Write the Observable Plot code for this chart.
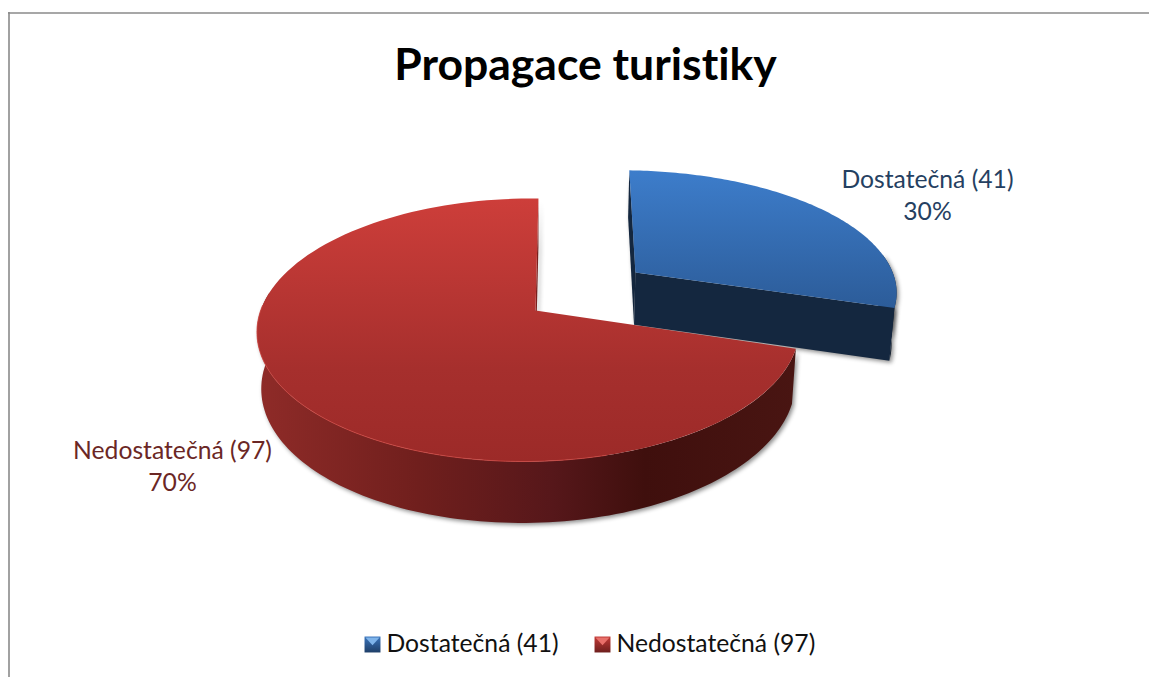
<!DOCTYPE html>
<html lang="cs">
<head>
<meta charset="utf-8">
<title>Propagace turistiky</title>
<script src="https://cdn.jsdelivr.net/npm/d3@7"></script>
<script src="https://cdn.jsdelivr.net/npm/@observablehq/plot@0.6"></script>
<style>
  html, body { margin: 0; padding: 0; background: #fff; }
  svg { display: block; font-variant-ligatures: none; }
  text { font-variant-ligatures: none; }
</style>
</head>
<body>
<div id="chart"></div>
<script>
// Survey answers
const chartTitle = "Propagace turistiky";
const categories = ["Dostatečná", "Nedostatečná"];
const counts = [41, 97];

const total = d3.sum(counts);
const labelText = categories.map((c, i) => `${c} (${counts[i]})`);
const percentText = counts.map(v => `${Math.round(v / total * 100)}%`);

// Slice angles, clockwise from the far side of the disc
const TAU = Math.PI * 2;
const blueSpan = counts[0] / total * TAU;
const explode = 0.5;
const blueShift = [explode * Math.sin(blueSpan / 2) * 0.97, explode * Math.cos(blueSpan / 2) * 1.05];

// Perspective view of a unit disc lying on a plane; depth = 0 is the top face,
// depth = 1 is the bottom face of the extruded pie.
function view(wx, wy, depth) {
  const den = 1 + 0.148 * wy + 0.025 * wx + 0.015 * depth;
  return {
    x: 535 + (268 * wx + 3.4 * wy) / den,
    y: 310 + (55.5 * depth - 128.6 * wy) / den
  };
}
// The exploded slice sits further from the lens axis, so it reads slightly wider and leans
const widen = s => (s[0] === 0 ? 1 : 1.05);
const lean = s => (s[0] === 0 ? 0 : 0.015);
const rimPoint = (t, depth, s) =>
  view(Math.sin(t) * widen(s) + Math.cos(t) * lean(s) + s[0], Math.cos(t) + s[1], depth);
const apex = (depth, s) => view(s[0], s[1], depth);
const arc = (a, b, depth, s) => d3.range(0, 121).map(i => rimPoint(a + (b - a) * i / 120, depth, s));

function topFace(a, b, s) { return [apex(0, s), ...arc(a, b, 0, s)]; }
function wall(a, b, s) { return [...arc(a, b, 0, s), ...arc(b, a, 1, s)]; }
function radial(t, s) { return [apex(0, s), rimPoint(t, 0, s), rimPoint(t, 1, s), apex(1, s)]; }

const noShift = [0, 0];
const shade = "drop-shadow(2px 2px 2px rgba(0,0,0,0.45))";
const face = (pts, fill, extra = {}) =>
  Plot.line(pts, {x: "x", y: "y", fill, stroke: "none", ...extra});

// Gradients used by the faces and legend swatches
function gradients() {
  const ns = "http://www.w3.org/2000/svg";
  const defs = document.createElementNS(ns, "defs");
  const add = (id, horizontal, stops) => {
    const g = document.createElementNS(ns, "linearGradient");
    g.setAttribute("id", id);
    g.setAttribute("x1", 0); g.setAttribute("y1", 0);
    g.setAttribute("x2", horizontal ? 1 : 0); g.setAttribute("y2", horizontal ? 0 : 1);
    for (const [o, c] of stops) {
      const s = document.createElementNS(ns, "stop");
      s.setAttribute("offset", o);
      s.setAttribute("stop-color", c);
      g.appendChild(s);
    }
    defs.appendChild(g);
  };
  add("blueTop", false, [[0, "#3d7dcb"], [1, "#2c5c99"]]);
  add("redTop", false, [[0, "#cd3e3a"], [0.65, "#a62f2d"], [1, "#9c2a28"]]);
  add("redWall", true, [[0, "#8f2b28"], [0.3, "#701f1d"], [0.55, "#56171a"], [0.72, "#3f0f0d"], [1, "#491512"]]);
  add("blueKey", false, [[0, "#3a74bb"], [1, "#1f3f68"]]);
  add("redKey", false, [[0, "#c23a37"], [1, "#6e1f1d"]]);
  return defs;
}

// Small downward wedge on each legend swatch
const wedge = {
  draw(ctx, size) {
    const h = Math.sqrt(size) / 2;
    ctx.moveTo(-h, -h);
    ctx.lineTo(h, -h);
    ctx.lineTo(0, h * 0.1);
    ctx.closePath();
  }
};

const font = "Lato, Carlito, sans-serif";
const keyRows = [
  {x: 372, tx: 386, fill: "url(#blueKey)", light: "#7fb4ea"},
  {x: 602, tx: 616, fill: "url(#redKey)", light: "#e8706a"}
].map((d, i) => ({...d, label: labelText[i], y: 644}));

const callouts = [
  {x: 927, y: 180, text: labelText[0], fill: "#254061"},
  {x: 927, y: 212, text: percentText[0], fill: "#254061"},
  {x: 172, y: 451, text: labelText[1], fill: "#6b2725"},
  {x: 172, y: 483, text: percentText[1], fill: "#6b2725"}
];

const chart = Plot.plot({
  width: 1149,
  height: 677,
  margin: 0,
  x: {domain: [0, 1149], axis: null},
  y: {domain: [677, 0], axis: null},
  marks: [
    gradients,
    // Chart frame
    Plot.ruleY([12.5], {x1: 8, x2: 1149, stroke: "#8a8a8a", strokeWidth: 1.6}),
    Plot.ruleX([8.5], {y1: 12, y2: 677, stroke: "#8a8a8a", strokeWidth: 1.6}),

    // Exploded slice
    face(radial(0, blueShift), "#14273f", {imageFilter: shade}),
    face(wall(1.4, blueSpan, blueShift), "#14273f", {imageFilter: shade}),
    face(radial(blueSpan, blueShift), "#14273f", {imageFilter: shade}),
    face(topFace(0, blueSpan, blueShift), "url(#blueTop)"),

    // Remaining disc
    face(radial(TAU, noShift), "#7a1f1d", {imageFilter: shade}),
    face(wall(blueSpan, 4.85, noShift), "url(#redWall)", {imageFilter: shade}),
    face(topFace(blueSpan, TAU, noShift), "url(#redTop)"),
    Plot.line(arc(2.9, 4.75, 0, noShift), {x: "x", y: "y", stroke: "#cf4844", strokeWidth: 1, strokeOpacity: 0.8}),

    // Title and slice labels
    Plot.text([chartTitle], {x: 585, y: 65, text: d => d, fontFamily: font, fontWeight: 700, fontSize: 44.5, fill: "#000"}),
    Plot.text(callouts, {x: "x", y: "y", text: "text", fill: "fill", fontFamily: font, fontSize: 24.7}),

    // Legend
    Plot.dot(keyRows, {x: "x", y: "y", symbol: "square", r: 9, fill: "fill", stroke: "none"}),
    Plot.dot(keyRows, {x: "x", y: "y", symbol: wedge, r: 8, fill: "light", stroke: "none"}),
    Plot.text(keyRows, {x: "tx", y: "y", text: "label", textAnchor: "start", fontFamily: font, fontSize: 24.7, fill: "#111"})
  ]
});
document.getElementById("chart").appendChild(chart);
</script>
</body>
</html>
